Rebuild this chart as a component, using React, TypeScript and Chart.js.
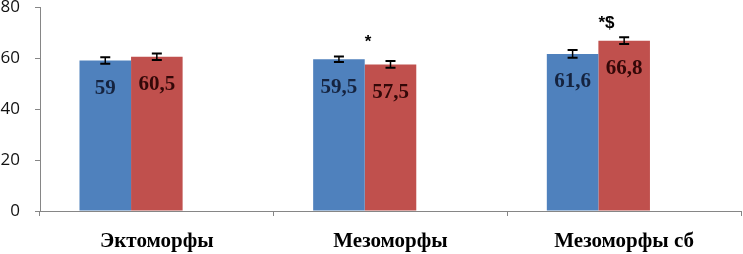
import React, { useEffect, useRef } from "react";
import { Chart, registerables } from "chart.js";

Chart.register(...registerables);

const categories = ["Эктоморфы", "Мезоморфы", "Мезоморфы сб"];
const seriesA = [59, 59.5, 61.6];
const seriesB = [60.5, 57.5, 66.8];
const seriesEmpty = [null, null, null];
const errorsA = [1.3, 1.1, 1.5];
const errorsB = [1.3, 1.3, 1.3];
const significance = ["", "*", "*$"];
const yMin = 0;
const yMax = 80;
const yStep = 20;

const BLUE = "#4F81BD";
const RED = "#C0504D";
const LABEL_A = "#15233f";
const LABEL_B = "#330808";

const fmt = (v: number) => String(v).replace(".", ",");

const overlayPlugin = {
  id: "overlay",
  afterDatasetsDraw(chart: any) {
    const ctx = chart.ctx;
    const y = chart.scales.y;
    const errs = [errorsA, errorsB];
    ctx.save();
    // error bars
    [0, 1].forEach((di) => {
      const meta = chart.getDatasetMeta(di);
      const data = chart.data.datasets[di].data as number[];
      meta.data.forEach((bar: any, j: number) => {
        const v = data[j];
        const e = errs[di][j];
        const yTop = y.getPixelForValue(v + e);
        const yBot = y.getPixelForValue(v - e);
        ctx.strokeStyle = "#000";
        ctx.lineWidth = 1.5;
        ctx.beginPath();
        ctx.moveTo(bar.x, yTop);
        ctx.lineTo(bar.x, yBot);
        ctx.stroke();
        ctx.lineWidth = 2;
        ctx.beginPath();
        ctx.moveTo(bar.x - 5, yTop);
        ctx.lineTo(bar.x + 5, yTop);
        ctx.moveTo(bar.x - 5, yBot);
        ctx.lineTo(bar.x + 5, yBot);
        ctx.stroke();
      });
    });
    // value labels
    ctx.font = "bold 21px 'Liberation Serif', 'Times New Roman', serif";
    ctx.textAlign = "center";
    ctx.textBaseline = "middle";
    [0, 1].forEach((di) => {
      const meta = chart.getDatasetMeta(di);
      const data = chart.data.datasets[di].data as number[];
      ctx.fillStyle = di === 0 ? LABEL_A : LABEL_B;
      meta.data.forEach((bar: any, j: number) => {
        ctx.fillText(fmt(data[j]), bar.x, bar.y + 28);
      });
    });
    // significance marks
    ctx.font = "bold 17px 'Liberation Sans', Arial, sans-serif";
    ctx.fillStyle = "#000";
    ctx.textAlign = "left";
    ctx.textBaseline = "alphabetic";
    const mA = chart.getDatasetMeta(0);
    const mB = chart.getDatasetMeta(1);
    significance.forEach((s, j) => {
      if (!s) return;
      const xa = mA.data[j];
      const xb = mB.data[j];
      const bx = (xa.x + xb.x) / 2;
      const top = Math.max(seriesA[j] + errorsA[j], seriesB[j] + errorsB[j]);
      ctx.fillText(s, bx, y.getPixelForValue(top) - 9);
    });
    ctx.restore();
  },
};

export default function App() {
  const ref = useRef<HTMLCanvasElement>(null);
  useEffect(() => {
    if (!ref.current) return;
    const chart = new Chart(ref.current, {
      type: "bar",
      data: {
        labels: categories,
        datasets: [
          { data: seriesA, backgroundColor: BLUE, borderWidth: 0 },
          { data: seriesB, backgroundColor: RED, borderWidth: 0 },
          { data: seriesEmpty as any, backgroundColor: "#9BBB59", borderWidth: 0 },
        ],
      },
      options: {
        responsive: false,
        animation: false,
        events: [],
        layout: { padding: { top: 7, right: 2, left: 0, bottom: 0 } },
        datasets: { bar: { categoryPercentage: 0.662, barPercentage: 1 } },
        plugins: { legend: { display: false }, tooltip: { enabled: false } },
        scales: {
          x: {
            grid: { offset: true, drawOnChartArea: false, drawTicks: true, tickLength: 5, color: "#868686" },
            border: { color: "#868686", width: 1 },
            ticks: {
              padding: 13,
              color: "#000",
              font: { family: "'Liberation Serif', 'Times New Roman', serif", weight: "bold", size: 21 },
            },
            afterFit: (s: any) => {
              s.height = 43;
              s.paddingLeft = 0;
              s.paddingRight = 0;
            },
          },
          y: {
            min: yMin,
            max: yMax,
            grid: { drawOnChartArea: false, drawTicks: true, tickLength: 5, color: "#868686" },
            border: { color: "#868686", width: 1 },
            ticks: {
              stepSize: yStep,
              padding: 15,
              color: "#111",
              font: { family: "'Open Sans', 'Liberation Sans', sans-serif", size: 17 },
            },
            afterFit: (s: any) => {
              s.width = 40;
              s.paddingTop = 0;
              s.paddingBottom = 0;
            },
          },
        },
      },
      plugins: [overlayPlugin],
    });
    return () => chart.destroy();
  }, []);
  return (
    <div style={{ position: "absolute", left: 0, top: 0, width: 743, height: 254, background: "#fff" }}>
      <canvas ref={ref} width={743} height={254} style={{ display: "block" }} />
    </div>
  );
}
